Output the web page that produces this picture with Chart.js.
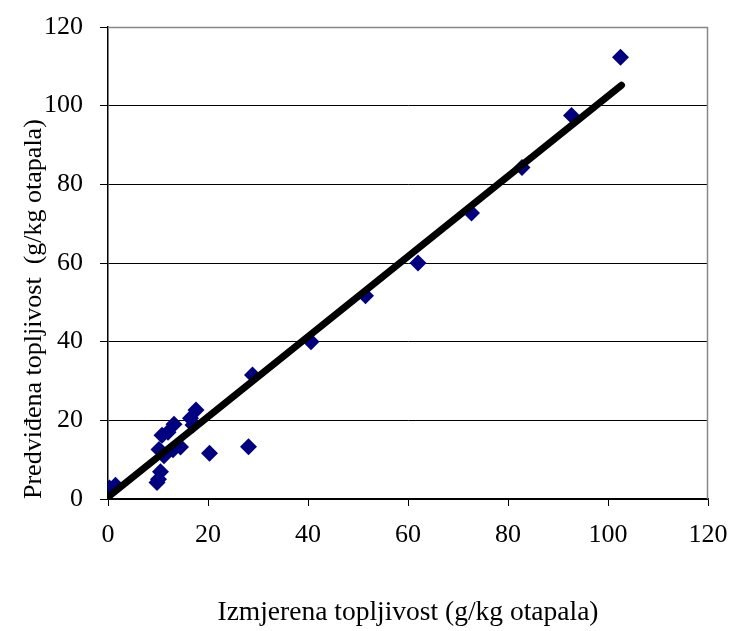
<!DOCTYPE html>
<html>
<head>
<meta charset="utf-8">
<script src="https://cdn.jsdelivr.net/npm/chart.js@4"></script>
<style>
  html, body { margin: 0; padding: 0; background: #fff; }
  #wrap { width: 734px; height: 631px; }
</style>
</head>
<body>
<div id="wrap"><canvas id="c"></canvas></div>
<script>
// measured vs predicted solubility (g/kg otapala)
const measured = [0.3, 1.5, 9.8, 10.1, 10.5, 10.2, 11.2, 10.8, 12.0, 13.2, 13.0, 14.5, 16.5, 17.6, 17.0, 20.3, 28.1,
  28.9, 40.6, 51.5, 62.0, 72.7, 82.8, 92.7, 102.5];
const predicted = [2.8, 3.5, 4.2, 5.0, 6.9, 12.6, 11.0, 16.2, 17.0, 19.0, 12.5, 13.2, 20.5, 22.6, 18.8, 11.6, 13.3,
  31.5, 40.0, 51.7, 60.0, 72.7, 84.3, 97.5, 112.3];
// trend line end points
const fitX = [0, 102.7];
const fitY = [0.5, 105.2];
const axisTicks = [0, 20, 40, 60, 80, 100, 120];

const serif = '"Liberation Serif", "Times New Roman", serif';

// keep the plot box where the original has it
const noOverflow = s => {
  s.paddingTop = 0; s.paddingBottom = 0; s.paddingLeft = 0; s.paddingRight = 0;
};

const frame = {
  id: 'frame',
  beforeDatasetsDraw(chart) {
    const { ctx, chartArea: a } = chart;
    ctx.save();
    ctx.strokeStyle = '#888';
    ctx.lineWidth = 1.5;
    ctx.beginPath();
    ctx.moveTo(a.left, a.top + 0.5);
    ctx.lineTo(a.right - 0.5, a.top + 0.5);
    ctx.lineTo(a.right - 0.5, a.bottom);
    ctx.stroke();
    ctx.restore();
  }
};

new Chart(document.getElementById('c'), {
  type: 'scatter',
  data: {
    datasets: [
      {
        type: 'line',
        data: fitX.map((x, i) => ({ x, y: fitY[i] })),
        borderColor: '#000',
        borderWidth: 7,
        borderCapStyle: 'round',
        pointRadius: 0,
        order: 0
      },
      {
        data: measured.map((x, i) => ({ x, y: predicted[i] })),
        pointStyle: 'rectRot',
        pointRadius: 8.5,
        backgroundColor: '#000080',
        borderColor: '#000080',
        borderWidth: 0,
        order: 1
      }
    ]
  },
  options: {
    responsive: true,
    maintainAspectRatio: false,
    animation: false,
    events: [],
    layout: { padding: { left: 19, right: 26, top: 27, bottom: 0 } },
    plugins: { legend: { display: false }, tooltip: { enabled: false } },
    scales: {
      x: {
        type: 'linear',
        min: 0, max: 120,
        afterBuildTicks: s => { s.ticks = axisTicks.map(v => ({ value: v })); },
        afterFit: s => { s.height = 631 - 499; noOverflow(s); },
        grid: { drawOnChartArea: false, color: '#000', tickLength: 7, tickWidth: 1 },
        border: { color: '#000', width: 1.5 },
        ticks: { color: '#000', font: { family: serif, size: 26 }, padding: 14, maxRotation: 0 },
        title: {
          display: true,
          text: 'Izmjerena topljivost (g/kg otapala)',
          color: '#000',
          font: { family: serif, size: 27.5 },
          padding: { top: 40, bottom: 2 }
        }
      },
      y: {
        type: 'linear',
        min: 0, max: 120,
        afterBuildTicks: s => { s.ticks = axisTicks.map(v => ({ value: v })); },
        afterFit: s => { s.width = 108 - 19; noOverflow(s); },
        grid: { color: '#000', lineWidth: 1, tickLength: 8 },
        border: { color: '#000', width: 1.5 },
        ticks: { color: '#000', font: { family: serif, size: 26 }, padding: 17 },
        title: {
          display: true,
          text: 'Predviđena topljivost  (g/kg otapala)',
          color: '#000',
          align: 'start',
          font: { family: serif, size: 26 },
          padding: { top: 0, bottom: 8 }
        }
      }
    }
  },
  plugins: [frame]
});
</script>
</body>
</html>
